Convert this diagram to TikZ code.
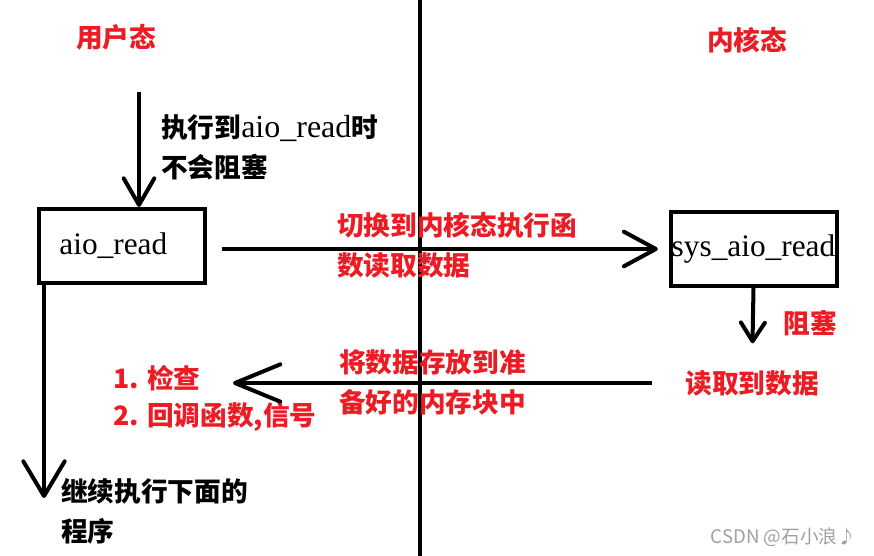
\documentclass[tikz,border=0pt]{standalone}
\usepackage{fontspec}
\setmainfont{Liberation Serif}
\newfontfamily\cjk{Noto Sans CJK SC}
\usetikzlibrary{arrows.meta}
\definecolor{paintred}{RGB}{237,28,36}
\definecolor{markgray}{RGB}{160,160,160}

\begin{document}
\begin{tikzpicture}[x=0.75pt,y=-0.75pt,
  box/.style={draw,line width=3pt,minimum width=124.5pt,minimum height=55.5pt,inner sep=0pt,font=\fontsize{23.5}{28}\selectfont},
  blk/.style={align=left,inner sep=0pt,font=\cjk\bfseries\fontsize{20}{30}\selectfont},
  redtxt/.style={blk,text=paintred},
  arr/.style n args={2}{line width=3pt,-{Straight Barb[length=#1,width=#2,round]}}]
  \useasboundingbox (0,0) rectangle (874,556);
  % divider between user and kernel side
  \draw[line width=3pt] (420,0) -- (420,556);

  \node[redtxt] (user) at (116,37) {用户态};
  \node[redtxt] (kern) at (747,40) {内核态};

  \node[box] (aio) at (122,246) {aio\_read\hspace*{13pt}};
  \node[box] (sys) at (753.5,249) {sys\_aio\_read};

  \node[blk,anchor=west] (note) at (161,147) {执行到{\rmfamily\mdseries\fontsize{24}{30}\selectfont aio\_read}时\\不会阻塞};
  \node[redtxt,anchor=west] (switch) at (337,245.5) {切换到内核态执行函\\数读取数据};
  \node[redtxt] (block) at (810,323) {阻塞};
  \node[redtxt] (got) at (752,383) {读取到数据};
  \node[redtxt,anchor=west] (store) at (339,382) {将数据存放到准\\备好的内存块中};
  \node[redtxt,anchor=west] (chk) at (113,378) {1. 检查};
  \node[redtxt,anchor=west] (cb) at (113,417) {2. 回调函数,信号};
  \node[blk,anchor=west] (goon) at (61,511.5) {继续执行下面的\\程序};
  \node[anchor=east,text=markgray,font=\cjk\fontsize{14}{16}\selectfont] (mark) at (861,537) {CSDN @石小浪♪};

  % arrows
  \coordinate (start) at (139,92);
  \draw[arr={20pt}{23pt}] (start) -- (start |- aio.north);
  \draw[arr={24pt}{26pt},shorten <=11pt,shorten >=8pt] (sys.west -| aio.east) -- (sys.west);
  \draw[arr={14pt}{18pt},shorten >=20pt] (sys.south) -- (got.north);
  \coordinate (ret) at (233,383);
  \draw[arr={34pt}{28pt},shorten <=25pt] (got.west) -- (ret);
  \coordinate (next) at (44,498);
  \draw[arr={26pt}{31pt}] (next |- aio.south) -- (next);
\end{tikzpicture}
\end{document}
